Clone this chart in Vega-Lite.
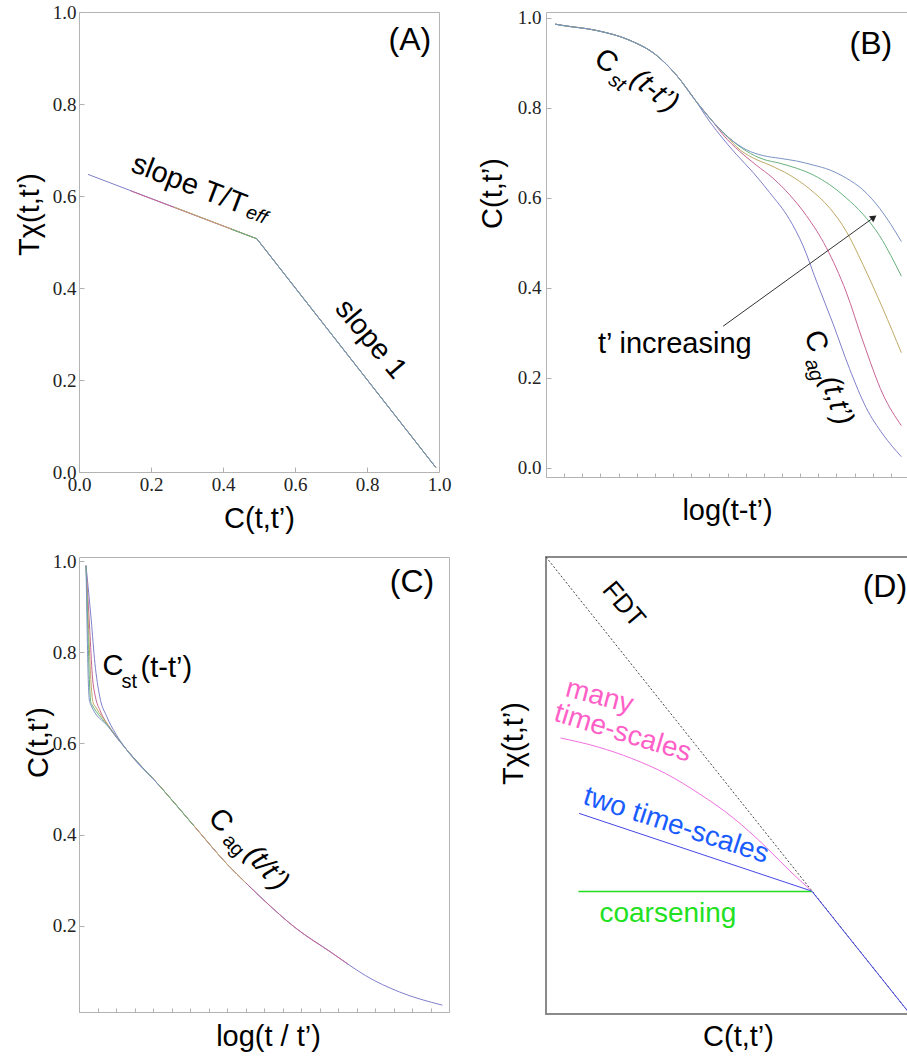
{
"$schema":"https://vega.github.io/schema/vega-lite/v6.json",
"background":"white",
"padding":{"left":14,"top":2,"right":0,"bottom":0},
"columns":2,
"spacing":{"row":80,"column":97},
"bounds":"flush",
"align":"each",
"resolve":{"scale":{"x":"independent","y":"independent","color":"independent"}},
"config":{
 "view":{"stroke":"#b4b4b4","strokeWidth":1},
 "axis":{"domain":false,"ticks":false,"grid":false,"labelFont":"Liberation Serif","labelFontSize":19,"labelColor":"#222","titleFont":"Liberation Sans","titleFontSize":29,"titleFontWeight":"normal","titleColor":"#000","labelFlush":false,"labelOverlap":false,"titleBaseline":"middle","titleAlign":"center","tickColor":"#b0b0b0","tickWidth":1},
 "text":{"font":"Liberation Sans","color":"#000"}
},
"concat":[
{"width":360,"height":460,
 "layer":[
  {"data":{"values":[
   {"s":"s1","x":0.025,"y":0.647},{"s":"s1","x":0.494,"y":0.507},{"s":"s1","x":0.991,"y":0.010},
   {"s":"s2","x":0.144,"y":0.611},{"s":"s2","x":0.494,"y":0.507},{"s":"s2","x":0.991,"y":0.010},
   {"s":"s3","x":0.264,"y":0.576},{"s":"s3","x":0.494,"y":0.507},{"s":"s3","x":0.991,"y":0.010},
   {"s":"s4","x":0.422,"y":0.528},{"s":"s4","x":0.494,"y":0.507},{"s":"s4","x":0.991,"y":0.010},
   {"s":"s5","x":0.494,"y":0.507},{"s":"s5","x":0.991,"y":0.010}]},
   "mark":{"type":"line","strokeWidth":1},
   "encoding":{
    "x":{"field":"x","type":"quantitative","scale":{"domain":[0,1],"nice":false,"zero":false},"axis":{"values":[0,0.2,0.4,0.6,0.8,1],"format":".1f","ticks":true,"tickSize":-5,"labelPadding":8,"title":"C(t,t’)","titleX":180,"titleY":46}},
    "y":{"field":"y","type":"quantitative","scale":{"domain":[0,1],"nice":false,"zero":false},"axis":{"values":[0,0.2,0.4,0.6,0.8,1],"format":".1f","ticks":true,"tickSize":-5,"labelPadding":8,"title":"Tχ(t,t’)","titleX":-50,"titleY":202}},
    "color":{"field":"s","type":"nominal","scale":{"domain":["s1","s2","s3","s4","s5"],"range":["#7f7fcc","#c86496","#c0aa66","#66b27a","#7b93c4"]},"legend":null}}},
  {"data":{"values":[{"x":0.919,"y":0.939,"t":"(A)"}]},"mark":{"type":"text","fontSize":32,"align":"center","baseline":"middle"},
   "encoding":{"x":{"field":"x","type":"quantitative"},"y":{"field":"y","type":"quantitative"},"text":{"field":"t"}}},
  {"data":{"values":[{"x":0.306,"y":0.626,"t":"slope T/T"}]},"mark":{"type":"text","fontSize":29,"angle":21,"align":"center","baseline":"middle"},
   "encoding":{"x":{"field":"x","type":"quantitative"},"y":{"field":"y","type":"quantitative"},"text":{"field":"t"}}},
  {"data":{"values":[{"x":0.494,"y":0.559,"t":"eff"}]},"mark":{"type":"text","fontSize":19,"fontStyle":"italic","angle":21,"align":"center","baseline":"middle"},
   "encoding":{"x":{"field":"x","type":"quantitative"},"y":{"field":"y","type":"quantitative"},"text":{"field":"t"}}},
  {"data":{"values":[{"x":0.811,"y":0.289,"t":"slope 1"}]},"mark":{"type":"text","fontSize":29,"angle":50,"align":"center","baseline":"middle"},
   "encoding":{"x":{"field":"x","type":"quantitative"},"y":{"field":"y","type":"quantitative"},"text":{"field":"t"}}}
 ]},
{"width":363,"height":465,
 "layer":[
  {"data":{"values":[
   {"s":"s1","x":0.025,"y":0.986},{"s":"s1","x":0.047,"y":0.983},{"s":"s1","x":0.139,"y":0.972},{"s":"s1","x":0.231,"y":0.950},{"s":"s1","x":0.304,"y":0.917},{"s":"s1","x":0.359,"y":0.873},{"s":"s1","x":0.414,"y":0.814},
   {"s":"s1","x":0.440,"y":0.782},{"s":"s1","x":0.479,"y":0.740},{"s":"s1","x":0.524,"y":0.697},{"s":"s1","x":0.570,"y":0.657},{"s":"s1","x":0.616,"y":0.612},{"s":"s1","x":0.671,"y":0.552},{"s":"s1","x":0.708,"y":0.494},{"s":"s1","x":0.745,"y":0.415},{"s":"s1","x":0.790,"y":0.322},{"s":"s1","x":0.836,"y":0.221},{"s":"s1","x":0.882,"y":0.134},{"s":"s1","x":0.928,"y":0.075},{"s":"s1","x":0.979,"y":0.025},
   {"s":"s2","x":0.025,"y":0.986},{"s":"s2","x":0.047,"y":0.983},{"s":"s2","x":0.139,"y":0.972},{"s":"s2","x":0.231,"y":0.950},{"s":"s2","x":0.304,"y":0.917},{"s":"s2","x":0.359,"y":0.873},{"s":"s2","x":0.414,"y":0.814},
   {"s":"s2","x":0.460,"y":0.769},{"s":"s2","x":0.488,"y":0.740},{"s":"s2","x":0.534,"y":0.703},{"s":"s2","x":0.579,"y":0.673},{"s":"s2","x":0.625,"y":0.644},{"s":"s2","x":0.671,"y":0.607},{"s":"s2","x":0.717,"y":0.561},{"s":"s2","x":0.772,"y":0.490},{"s":"s2","x":0.827,"y":0.391},{"s":"s2","x":0.873,"y":0.282},{"s":"s2","x":0.928,"y":0.164},{"s":"s2","x":0.979,"y":0.094},
   {"s":"s3","x":0.025,"y":0.986},{"s":"s3","x":0.047,"y":0.983},{"s":"s3","x":0.139,"y":0.972},{"s":"s3","x":0.231,"y":0.950},{"s":"s3","x":0.304,"y":0.917},{"s":"s3","x":0.359,"y":0.873},{"s":"s3","x":0.414,"y":0.814},
   {"s":"s3","x":0.460,"y":0.769},{"s":"s3","x":0.506,"y":0.730},{"s":"s3","x":0.524,"y":0.714},{"s":"s3","x":0.570,"y":0.689},{"s":"s3","x":0.616,"y":0.673},{"s":"s3","x":0.671,"y":0.651},{"s":"s3","x":0.726,"y":0.620},{"s":"s3","x":0.782,"y":0.577},{"s":"s3","x":0.827,"y":0.526},{"s":"s3","x":0.873,"y":0.452},{"s":"s3","x":0.928,"y":0.354},{"s":"s3","x":0.979,"y":0.256},
   {"s":"s4","x":0.025,"y":0.986},{"s":"s4","x":0.047,"y":0.983},{"s":"s4","x":0.139,"y":0.972},{"s":"s4","x":0.231,"y":0.950},{"s":"s4","x":0.304,"y":0.917},{"s":"s4","x":0.359,"y":0.873},{"s":"s4","x":0.414,"y":0.814},
   {"s":"s4","x":0.460,"y":0.769},{"s":"s4","x":0.506,"y":0.732},{"s":"s4","x":0.552,"y":0.704},{"s":"s4","x":0.598,"y":0.686},{"s":"s4","x":0.644,"y":0.677},{"s":"s4","x":0.690,"y":0.666},{"s":"s4","x":0.736,"y":0.651},{"s":"s4","x":0.782,"y":0.629},{"s":"s4","x":0.827,"y":0.600},{"s":"s4","x":0.873,"y":0.564},{"s":"s4","x":0.919,"y":0.516},{"s":"s4","x":0.950,"y":0.472},{"s":"s4","x":0.979,"y":0.426},
   {"s":"s5","x":0.025,"y":0.986},{"s":"s5","x":0.047,"y":0.983},{"s":"s5","x":0.139,"y":0.972},{"s":"s5","x":0.231,"y":0.950},{"s":"s5","x":0.304,"y":0.917},{"s":"s5","x":0.359,"y":0.873},{"s":"s5","x":0.414,"y":0.814},
   {"s":"s5","x":0.460,"y":0.769},{"s":"s5","x":0.506,"y":0.732},{"s":"s5","x":0.552,"y":0.707},{"s":"s5","x":0.598,"y":0.694},{"s":"s5","x":0.644,"y":0.688},{"s":"s5","x":0.690,"y":0.682},{"s":"s5","x":0.736,"y":0.673},{"s":"s5","x":0.782,"y":0.662},{"s":"s5","x":0.827,"y":0.644},{"s":"s5","x":0.873,"y":0.618},{"s":"s5","x":0.919,"y":0.577},{"s":"s5","x":0.950,"y":0.541},{"s":"s5","x":0.979,"y":0.503}]},
   "mark":{"type":"line","strokeWidth":1,"interpolate":"monotone"},
   "encoding":{
    "x":{"field":"x","type":"quantitative","scale":{"domain":[0,1],"nice":false,"zero":false},"axis":{"labels":false,"ticks":true,"tickSize":-4,"tickCount":20,"title":"log(t-t’)","titleX":181,"titleY":33}},
    "y":{"field":"y","type":"quantitative","scale":{"domain":[-0.02,1.013],"nice":false,"zero":false},"axis":{"values":[0,0.2,0.4,0.6,0.8,1],"format":".1f","ticks":true,"tickSize":-5,"labelPadding":10,"title":"C(t,t’)","titleX":-54,"titleY":181}},
    "color":{"field":"s","type":"nominal","scale":{"domain":["s1","s2","s3","s4","s5"],"range":["#7f7fcc","#c86496","#c0aa66","#66b27a","#7b93c4"]},"legend":null}}},
  {"data":{"values":[{"x":0.488,"y":0.315,"x2":0.902,"y2":0.556}]},"mark":{"type":"rule","color":"#333","strokeWidth":1},
   "encoding":{"x":{"field":"x","type":"quantitative"},"y":{"field":"y","type":"quantitative"},"x2":{"field":"x2"},"y2":{"field":"y2"}}},
  {"data":{"values":[{"x":0.903,"y":0.557}]},"mark":{"type":"point","shape":"triangle-right","angle":324,"size":55,"filled":true,"color":"#222","opacity":1},
   "encoding":{"x":{"field":"x","type":"quantitative"},"y":{"field":"y","type":"quantitative"}}},
  {"data":{"values":[{"x":0.895,"y":0.942,"t":"(B)"}]},"mark":{"type":"text","fontSize":32,"align":"center","baseline":"middle"},
   "encoding":{"x":{"field":"x","type":"quantitative"},"y":{"field":"y","type":"quantitative"},"text":{"field":"t"}}},
  {"data":{"values":[{"x":0.166,"y":0.904,"t":"C"}]},"mark":{"type":"text","fontSize":29,"angle":35,"align":"center","baseline":"middle"},
   "encoding":{"x":{"field":"x","type":"quantitative"},"y":{"field":"y","type":"quantitative"},"text":{"field":"t"}}},
  {"data":{"values":[{"x":0.196,"y":0.856,"t":"st"}]},"mark":{"type":"text","fontSize":20,"fontStyle":"italic","angle":35,"align":"center","baseline":"middle"},
   "encoding":{"x":{"field":"x","type":"quantitative"},"y":{"field":"y","type":"quantitative"},"text":{"field":"t"}}},
  {"data":{"values":[{"x":0.300,"y":0.838,"t":"(t-t’)"}]},"mark":{"type":"text","fontSize":29,"fontStyle":"italic","angle":38,"align":"center","baseline":"middle"},
   "encoding":{"x":{"field":"x","type":"quantitative"},"y":{"field":"y","type":"quantitative"},"text":{"field":"t"}}},
  {"data":{"values":[{"x":0.355,"y":0.275,"t":"t’ increasing"}]},"mark":{"type":"text","fontSize":29,"align":"center","baseline":"middle"},
   "encoding":{"x":{"field":"x","type":"quantitative"},"y":{"field":"y","type":"quantitative"},"text":{"field":"t"}}},
  {"data":{"values":[{"x":0.744,"y":0.282,"t":"C"}]},"mark":{"type":"text","fontSize":29,"angle":72,"align":"center","baseline":"middle"},
   "encoding":{"x":{"field":"x","type":"quantitative"},"y":{"field":"y","type":"quantitative"},"text":{"field":"t"}}},
  {"data":{"values":[{"x":0.738,"y":0.218,"t":"ag"}]},"mark":{"type":"text","fontSize":20,"fontStyle":"italic","angle":72,"align":"center","baseline":"middle"},
   "encoding":{"x":{"field":"x","type":"quantitative"},"y":{"field":"y","type":"quantitative"},"text":{"field":"t"}}},
  {"data":{"values":[{"x":0.802,"y":0.150,"t":"(t,t’)"}]},"mark":{"type":"text","fontSize":29,"fontStyle":"italic","angle":72,"align":"center","baseline":"middle"},
   "encoding":{"x":{"field":"x","type":"quantitative"},"y":{"field":"y","type":"quantitative"},"text":{"field":"t"}}}
 ]},
{"width":370,"height":455,
 "layer":[
  {"data":{"values":[
   {"s":"s1","x":0.019,"y":0.990},{"s":"s1","x":0.033,"y":0.871},{"s":"s1","x":0.043,"y":0.776},{"s":"s1","x":0.056,"y":0.703},{"s":"s1","x":0.075,"y":0.659},{"s":"s1","x":0.098,"y":0.623},{"s":"s1","x":0.127,"y":0.588},
   {"s":"s1","x":0.219,"y":0.506},{"s":"s1","x":0.311,"y":0.419},{"s":"s1","x":0.404,"y":0.332},{"s":"s1","x":0.450,"y":0.295},{"s":"s1","x":0.496,"y":0.259},{"s":"s1","x":0.589,"y":0.193},{"s":"s1","x":0.681,"y":0.142},{"s":"s1","x":0.727,"y":0.116},{"s":"s1","x":0.774,"y":0.091},{"s":"s1","x":0.866,"y":0.055},{"s":"s1","x":0.982,"y":0.026},
   {"s":"s2","x":0.019,"y":0.990},{"s":"s2","x":0.029,"y":0.850},{"s":"s2","x":0.036,"y":0.750},{"s":"s2","x":0.045,"y":0.700},{"s":"s2","x":0.056,"y":0.674},{"s":"s2","x":0.080,"y":0.638},{"s":"s2","x":0.127,"y":0.588},
   {"s":"s2","x":0.219,"y":0.506},{"s":"s2","x":0.311,"y":0.419},{"s":"s2","x":0.404,"y":0.332},{"s":"s2","x":0.450,"y":0.295},{"s":"s2","x":0.496,"y":0.259},{"s":"s2","x":0.589,"y":0.193},{"s":"s2","x":0.681,"y":0.142},{"s":"s2","x":0.727,"y":0.116},
   {"s":"s3","x":0.019,"y":0.990},{"s":"s3","x":0.026,"y":0.850},{"s":"s3","x":0.032,"y":0.740},{"s":"s3","x":0.038,"y":0.690},{"s":"s3","x":0.045,"y":0.680},{"s":"s3","x":0.080,"y":0.639},{"s":"s3","x":0.127,"y":0.588},
   {"s":"s3","x":0.219,"y":0.506},{"s":"s3","x":0.311,"y":0.419},{"s":"s3","x":0.404,"y":0.332},{"s":"s3","x":0.450,"y":0.295},
   {"s":"s4","x":0.019,"y":0.990},{"s":"s4","x":0.024,"y":0.850},{"s":"s4","x":0.028,"y":0.740},{"s":"s4","x":0.032,"y":0.690},{"s":"s4","x":0.036,"y":0.684},{"s":"s4","x":0.080,"y":0.637},{"s":"s4","x":0.127,"y":0.588},
   {"s":"s4","x":0.219,"y":0.506},{"s":"s4","x":0.311,"y":0.419},
   {"s":"s5","x":0.019,"y":0.990},{"s":"s5","x":0.022,"y":0.850},{"s":"s5","x":0.025,"y":0.740},{"s":"s5","x":0.028,"y":0.695},{"s":"s5","x":0.031,"y":0.687},{"s":"s5","x":0.080,"y":0.636},{"s":"s5","x":0.127,"y":0.588},{"s":"s5","x":0.219,"y":0.506}]},
   "mark":{"type":"line","strokeWidth":1,"interpolate":"monotone"},
   "encoding":{
    "x":{"field":"x","type":"quantitative","scale":{"domain":[0,1],"nice":false,"zero":false},"axis":{"labels":false,"ticks":true,"tickSize":-4,"tickCount":20,"title":"log(t / t’)","titleX":189,"titleY":24}},
    "y":{"field":"y","type":"quantitative","scale":{"domain":[0.011,1.009],"nice":false,"zero":false},"axis":{"values":[0.2,0.4,0.6,0.8,1],"format":".1f","ticks":true,"tickSize":-5,"labelPadding":8,"title":"C(t,t’)","titleX":-41,"titleY":185}},
    "color":{"field":"s","type":"nominal","scale":{"domain":["s1","s2","s3","s4","s5"],"range":["#7f7fcc","#c86496","#c0aa66","#66b27a","#7b93c4"]},"legend":null}}},
  {"data":{"values":[{"x":0.9,"y":0.955,"t":"(C)"}]},"mark":{"type":"text","fontSize":32,"align":"center","baseline":"middle"},
   "encoding":{"x":{"field":"x","type":"quantitative"},"y":{"field":"y","type":"quantitative"},"text":{"field":"t"}}},
  {"data":{"values":[{"x":0.092,"y":0.769,"t":"C"},{"x":0.236,"y":0.765,"t":"(t-t’)"}]},"mark":{"type":"text","fontSize":29,"align":"center","baseline":"middle"},
   "encoding":{"x":{"field":"x","type":"quantitative"},"y":{"field":"y","type":"quantitative"},"text":{"field":"t"}}},
  {"data":{"values":[{"x":0.136,"y":0.734,"t":"st"}]},"mark":{"type":"text","fontSize":20,"align":"center","baseline":"middle"},
   "encoding":{"x":{"field":"x","type":"quantitative"},"y":{"field":"y","type":"quantitative"},"text":{"field":"t"}}},
  {"data":{"values":[{"x":0.383,"y":0.431,"t":"C"}]},"mark":{"type":"text","fontSize":29,"angle":48,"align":"center","baseline":"middle"},
   "encoding":{"x":{"field":"x","type":"quantitative"},"y":{"field":"y","type":"quantitative"},"text":{"field":"t"}}},
  {"data":{"values":[{"x":0.417,"y":0.376,"t":"ag"}]},"mark":{"type":"text","fontSize":20,"angle":48,"align":"center","baseline":"middle"},
   "encoding":{"x":{"field":"x","type":"quantitative"},"y":{"field":"y","type":"quantitative"},"text":{"field":"t"}}},
  {"data":{"values":[{"x":0.508,"y":0.327,"t":"(t/t’)"}]},"mark":{"type":"text","fontSize":29,"fontStyle":"italic","angle":48,"align":"center","baseline":"middle"},
   "encoding":{"x":{"field":"x","type":"quantitative"},"y":{"field":"y","type":"quantitative"},"text":{"field":"t"}}}
 ]},
{"width":364,"height":457,
 "view":{"stroke":"#8a8a8a","strokeWidth":2},
 "layer":[
  {"data":{"values":[{"x":0,"y":1},{"x":1,"y":0}]},"mark":{"type":"line","stroke":"#444","strokeWidth":1,"strokeDash":[2,2]},
   "encoding":{
    "x":{"field":"x","type":"quantitative","scale":{"domain":[0,1],"nice":false,"zero":false},"axis":{"labels":false,"title":"C(t,t’)","titleX":192,"titleY":22}},
    "y":{"field":"y","type":"quantitative","scale":{"domain":[0,1],"nice":false,"zero":false},"axis":{"labels":false,"title":"Tχ(t,t’)","titleX":-33,"titleY":186}}}},
  {"data":{"values":[{"x":0.040,"y":0.604},{"x":0.144,"y":0.584},{"x":0.236,"y":0.559},{"x":0.329,"y":0.526},{"x":0.421,"y":0.482},{"x":0.513,"y":0.430},{"x":0.606,"y":0.364},{"x":0.670,"y":0.313},{"x":0.730,"y":0.269}]},
   "mark":{"type":"line","stroke":"#f070e0","strokeWidth":1,"interpolate":"monotone"},
   "encoding":{"x":{"field":"x","type":"quantitative"},"y":{"field":"y","type":"quantitative"}}},
  {"data":{"values":[{"x":0.089,"y":0.268},{"x":0.730,"y":0.268}]},
   "mark":{"type":"line","stroke":"#22dd22","strokeWidth":1.3},
   "encoding":{"x":{"field":"x","type":"quantitative"},"y":{"field":"y","type":"quantitative"}}},
  {"data":{"values":[{"x":0.091,"y":0.439},{"x":0.730,"y":0.269},{"x":1.0,"y":0.0}]},
   "mark":{"type":"line","stroke":"#4646e6","strokeWidth":1},
   "encoding":{"x":{"field":"x","type":"quantitative"},"y":{"field":"y","type":"quantitative"}}},
  {"data":{"values":[{"x":0.931,"y":0.934,"t":"(D)"}]},"mark":{"type":"text","fontSize":32,"align":"center","baseline":"middle"},
   "encoding":{"x":{"field":"x","type":"quantitative"},"y":{"field":"y","type":"quantitative"},"text":{"field":"t"}}},
  {"data":{"values":[{"x":0.213,"y":0.896,"t":"FDT"}]},"mark":{"type":"text","fontSize":26,"angle":50,"align":"center","baseline":"middle"},
   "encoding":{"x":{"field":"x","type":"quantitative"},"y":{"field":"y","type":"quantitative"},"text":{"field":"t"}}},
  {"data":{"values":[{"x":0.147,"y":0.694,"t":"many"}]},"mark":{"type":"text","fontSize":28,"angle":15,"color":"#ff5fc8","align":"center","baseline":"middle"},
   "encoding":{"x":{"field":"x","type":"quantitative"},"y":{"field":"y","type":"quantitative"},"text":{"field":"t"}}},
  {"data":{"values":[{"x":0.211,"y":0.614,"t":"time-scales"}]},"mark":{"type":"text","fontSize":28,"angle":17,"color":"#ff5fc8","align":"center","baseline":"middle"},
   "encoding":{"x":{"field":"x","type":"quantitative"},"y":{"field":"y","type":"quantitative"},"text":{"field":"t"}}},
  {"data":{"values":[{"x":0.357,"y":0.412,"t":"two time-scales"}]},"mark":{"type":"text","fontSize":28,"angle":18,"color":"#1a5cff","align":"center","baseline":"middle"},
   "encoding":{"x":{"field":"x","type":"quantitative"},"y":{"field":"y","type":"quantitative"},"text":{"field":"t"}}},
  {"data":{"values":[{"x":0.335,"y":0.218,"t":"coarsening"}]},"mark":{"type":"text","fontSize":28,"color":"#22e022","align":"center","baseline":"middle"},
   "encoding":{"x":{"field":"x","type":"quantitative"},"y":{"field":"y","type":"quantitative"},"text":{"field":"t"}}}
 ]}
]
}
